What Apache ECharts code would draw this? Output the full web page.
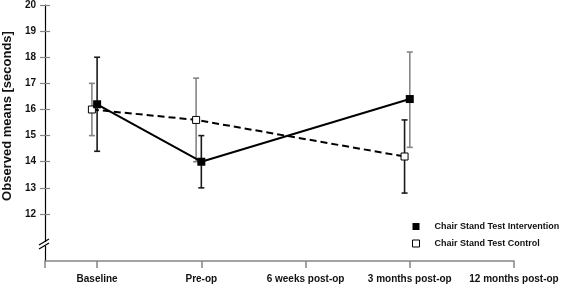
<!DOCTYPE html>
<html>
<head>
<meta charset="utf-8">
<script src="https://cdn.jsdelivr.net/npm/echarts@6/dist/echarts.min.js"></script>
<style>
  html, body { margin: 0; padding: 0; background: #fff; }
  #chart { width: 565px; height: 287px; }
</style>
</head>
<body>
<div id="chart"></div>
<script>
// time points on the x axis
var timePoints = ['Baseline', 'Pre-op', '6 weeks post-op', '3 months post-op', '12 months post-op'];
var tickLabels = ['12', '13', '14', '15', '16', '17', '18', '19', '20'];

// index into timePoints for each measured point
var measuredAt = [0, 1, 3];
// intervention group: mean and error bar ends
var interventionMean = [16.2, 14.0, 16.4];
var interventionLow = [14.4, 13.0, 14.55];
var interventionHigh = [18.0, 15.0, 18.2];
// control group
var controlMean = [16.0, 15.6, 14.2];
var controlLow = [15.0, 14.0, 12.8];
var controlHigh = [17.0, 17.2, 15.6];

// small sideways nudge so control marks sit left of intervention
var CONTROL_SHIFT = -0.05;
var GREY = '#858585';
var DARK = '#1a1a1a';
// bar colours as drawn in the source figure
var interventionBarColor = [DARK, DARK, GREY];
var controlBarColor = [GREY, GREY, DARK];

var chart = echarts.init(document.getElementById('chart'));

function pts(means, shift) {
	var arr = [];
	for (var i = 0; i < means.length; i++) {
		arr.push([measuredAt[i] + shift, means[i]]);
	}
	return arr;
}
function bars(low, high, shift) {
	var arr = [];
	for (var i = 0; i < low.length; i++) {
		arr.push([measuredAt[i] + shift, low[i], high[i], i]);
	}
	return arr;
}

function errorBarRender(colors) {
	return function(params, api) {
		var x = api.value(0);
		var lo = api.coord([x, api.value(1)]);
		var hi = api.coord([x, api.value(2)]);
		var c = colors[api.value(3)];
		var w = 3;
		var st = { stroke: c, lineWidth: 1.6 };
		return {
			type: 'group',
			children: [
				{ type: 'line', shape: { x1: lo[0], y1: lo[1], x2: hi[0], y2: hi[1] }, style: st },
				{ type: 'line', shape: { x1: lo[0] - w, y1: lo[1], x2: lo[0] + w, y2: lo[1] }, style: st },
				{ type: 'line', shape: { x1: hi[0] - w, y1: hi[1], x2: hi[0] + w, y2: hi[1] }, style: st }
			]
		};
	};
}

var font = 'Liberation Sans, Arial, Helvetica, sans-serif';
var yTicks = tickLabels.map(Number);

var option = {
	animation: false,
	grid: { left: 45, right: 51, top: 5, bottom: 26 },
	xAxis: {
		type: 'value',
		min: -0.5,
		max: 4,
		axisLine: { onZero: false, lineStyle: { color: GREY, width: 1.5 } },
		axisTick: { customValues: [-0.5, 0, 1, 2, 3, 4], length: 7, lineStyle: { color: GREY, width: 1.5 } },
		axisLabel: {
			customValues: [0, 1, 2, 3, 4],
			margin: 13,
			fontFamily: font, fontWeight: 'bold', fontSize: 10, color: '#111',
			formatter: function(v) { return timePoints[Math.round(v)]; }
		},
		splitLine: { show: false }
	},
	yAxis: [{
		type: 'value',
		min: 10.2,
		max: 20,
		axisLine: { show: true, onZero: false, lineStyle: { color: '#000', width: 1.2 } },
		axisTick: { show: true, customValues: yTicks, length: 5, lineStyle: { color: GREY, width: 1.2 } },
		axisLabel: {
			customValues: yTicks, margin: 9,
			fontFamily: font, fontWeight: 'bold', fontSize: 10, color: '#111'
		},
		splitLine: { show: false }
	}, {
		type: 'value',
		position: 'left',
		min: 10.2,
		max: 20,
		axisLine: { show: false, onZero: false },
		axisTick: { show: true, inside: true, customValues: yTicks, length: 5, lineStyle: { color: GREY, width: 1.2 } },
		axisLabel: { show: false },
		splitLine: { show: false }
	}],
	legend: {
		orient: 'vertical',
		left: 407,
		top: 217,
		itemWidth: 7,
		itemHeight: 7,
		itemGap: 8,
		textStyle: { fontFamily: font, fontWeight: 'bold', fontSize: 9, color: '#111', padding: [0, 0, 0, 10] },
		data: [
			{ name: 'Chair Stand Test Intervention', icon: 'rect', itemStyle: { color: '#000', borderWidth: 0 } },
			{ name: 'Chair Stand Test Control', icon: 'rect', itemStyle: { color: '#fff', borderColor: '#000', borderWidth: 1 } }
		]
	},
	series: [{
		type: 'custom',
		name: 'bars-control',
		renderItem: errorBarRender(controlBarColor),
		data: bars(controlLow, controlHigh, CONTROL_SHIFT),
		z: 1
	}, {
		type: 'custom',
		name: 'bars-intervention',
		renderItem: errorBarRender(interventionBarColor),
		data: bars(interventionLow, interventionHigh, 0),
		z: 1
	}, {
		type: 'line',
		name: 'Chair Stand Test Control',
		data: pts(controlMean, CONTROL_SHIFT),
		symbol: 'rect',
		symbolSize: 7,
		lineStyle: { color: '#000', width: 2, type: [7, 4] },
		itemStyle: { color: '#fff', borderColor: '#000', borderWidth: 1 },
		z: 3
	}, {
		type: 'line',
		name: 'Chair Stand Test Intervention',
		data: pts(interventionMean, 0),
		symbol: 'rect',
		symbolSize: 8,
		lineStyle: { color: '#000', width: 2 },
		itemStyle: { color: '#000' },
		z: 4
	}]
};
chart.setOption(option);

// axis title and the broken-axis marks
var brk = chart.convertToPixel({ yAxisIndex: 0 }, 10.85);
var ax = chart.convertToPixel({ xAxisIndex: 0 }, -0.5);
chart.setOption({
	graphic: [{
		type: 'text',
		x: 7,
		y: 116,
		rotation: Math.PI / 2,
		style: {
			text: 'Observed means [seconds]',
			font: 'bold 13px ' + font,
			fill: '#111',
			textAlign: 'center',
			textVerticalAlign: 'middle'
		}
	}, {
		type: 'rect',
		shape: { x: ax - 2, y: brk - 2, width: 4, height: 4 },
		style: { fill: '#fff' },
		z: 100
	}, {
		type: 'line',
		shape: { x1: ax - 6, y1: brk + 1, x2: ax + 4, y2: brk - 5 },
		style: { stroke: '#000', lineWidth: 1.3 },
		z: 101
	}, {
		type: 'line',
		shape: { x1: ax - 6, y1: brk + 5, x2: ax + 4, y2: brk - 1 },
		style: { stroke: '#000', lineWidth: 1.3 },
		z: 101
	}]
});
</script>
</body>
</html>
